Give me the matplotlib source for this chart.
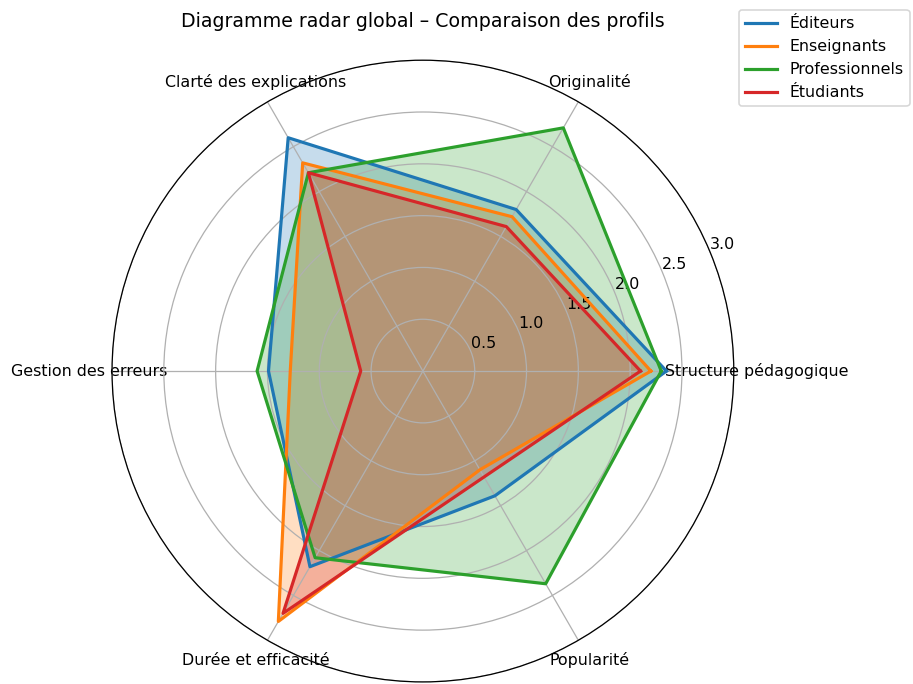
import matplotlib
matplotlib.use('Agg')
import matplotlib.pyplot as plt
import numpy as np

# critères du radar
categories = ['Structure pédagogique', 'Originalité', 'Clarté des explications',
              'Gestion des erreurs', 'Durée et efficacité', 'Popularité']

# scores moyens par profil
editeurs = [2.35, 1.80, 2.60, 1.49, 2.18, 1.39]
enseignants = [2.20, 1.72, 2.32, 1.28, 2.79, 1.10]
professionnels = [2.30, 2.71, 2.21, 1.60, 2.08, 2.37]
etudiants = [2.10, 1.61, 2.21, 0.60, 2.70, 1.18]

profils = ['Éditeurs', 'Enseignants', 'Professionnels', 'Étudiants']
series = [editeurs, enseignants, professionnels, etudiants]

N = len(categories)
angles = np.linspace(0, 2*np.pi, N, endpoint=False).tolist()
angles += angles[:1]  # on referme le polygone

fig = plt.figure(figsize=(913/114, 684/114), dpi=114)
ax = fig.add_axes([0.1227, 0.003, 0.681, 0.909], polar=True)

for nom, vals in zip(profils, series):
    v = vals + vals[:1]
    ax.plot(angles, v, linewidth=2, label=nom)
    ax.fill(angles, v, alpha=0.25)

ax.set_xticks(angles[:-1])
ax.set_xticklabels(categories)
for lab in ax.get_xticklabels():
    lab.set_horizontalalignment('center')
    lab.set_verticalalignment('center')
ax.tick_params(axis='x', pad=4)
ax.set_ylim(0, 3)
ax.set_yticks([0.5, 1.0, 1.5, 2.0, 2.5, 3.0])
ax.set_title('Diagramme radar global – Comparaison des profils', fontsize=12, pad=21)

fig.legend(loc='upper right', bbox_to_anchor=(1.005, 0.997))

fig.savefig('out.png', dpi=114)
